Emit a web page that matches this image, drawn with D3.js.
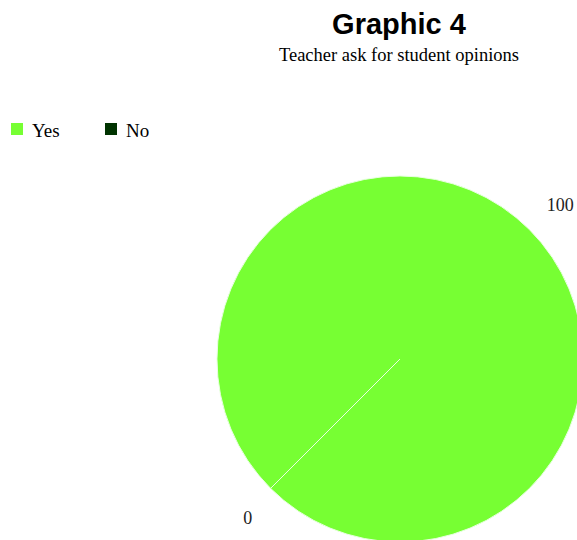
<!DOCTYPE html>
<html>
<head>
<meta charset="utf-8">
<script src="https://cdn.jsdelivr.net/npm/d3@7"></script>
<style>
  body { margin: 0; background: #fff; }
</style>
</head>
<body>
<div id="chart"></div>
<script>
// chart data
var categories = ["Yes", "No"];
var values = [100, 0];
var colors = ["#77ff33", "#003300"];

var width = 577, height = 540;
var cx = 400, cy = 359, radius = 183;

var svg = d3.select("#chart")
  .append("svg")
  .attr("width", width)
  .attr("height", height);

// title
svg.append("text")
  .attr("x", 399)
  .attr("y", 34)
  .attr("text-anchor", "middle")
  .style("font-family", "'Liberation Sans', Arial, sans-serif")
  .style("font-weight", "bold")
  .style("font-size", "29px")
  .text("Graphic 4");

svg.append("text")
  .attr("x", 399)
  .attr("y", 61)
  .attr("text-anchor", "middle")
  .style("font-family", "'Liberation Serif', 'Times New Roman', serif")
  .style("font-size", "18.5px")
  .text("Teacher ask for student opinions");

// legend
var legend = svg.append("g").attr("transform", "translate(11,123)");
var item = legend.selectAll("g")
  .data(categories)
  .enter()
  .append("g")
  .attr("transform", function(d, i) { return "translate(" + (i * 94) + ",0)"; });

item.append("rect")
  .attr("width", 12)
  .attr("height", 12)
  .attr("fill", function(d, i) { return colors[i]; });

item.append("text")
  .attr("x", 21)
  .attr("y", 14)
  .style("font-family", "'Liberation Serif', 'Times New Roman', serif")
  .style("font-size", "19px")
  .text(function(d) { return d; });

// pie
var start = Math.PI * 5 / 4;
var pie = d3.pie()
  .sort(null)
  .startAngle(start)
  .endAngle(start + Math.PI * 2)
  .value(function(d) { return d; });

var arc = d3.arc().innerRadius(0).outerRadius(radius);
var labelArc = d3.arc().innerRadius(221).outerRadius(221);

var g = svg.append("g")
  .attr("transform", "translate(" + cx + "," + cy + ")");

var slices = pie(values);

g.selectAll("path")
  .data(slices)
  .enter()
  .append("path")
  .attr("d", arc)
  .attr("fill", function(d, i) { return colors[i]; })
  .attr("stroke", "#e8ffe0")
  .attr("stroke-width", 1);

g.selectAll(".label")
  .data(slices)
  .enter()
  .append("text")
  .attr("class", "label")
  .attr("transform", function(d) {
    var c = labelArc.centroid(d);
    return "translate(" + (c[0] + 4) + "," + (c[1] + 2) + ")";
  })
  .attr("text-anchor", "middle")
  .attr("dy", "0.35em")
  .style("font-family", "'Liberation Serif', 'Times New Roman', serif")
  .style("font-size", "18px")
  .style("fill", "#222")
  .text(function(d, i) { return values[i]; });
</script>
</body>
</html>
